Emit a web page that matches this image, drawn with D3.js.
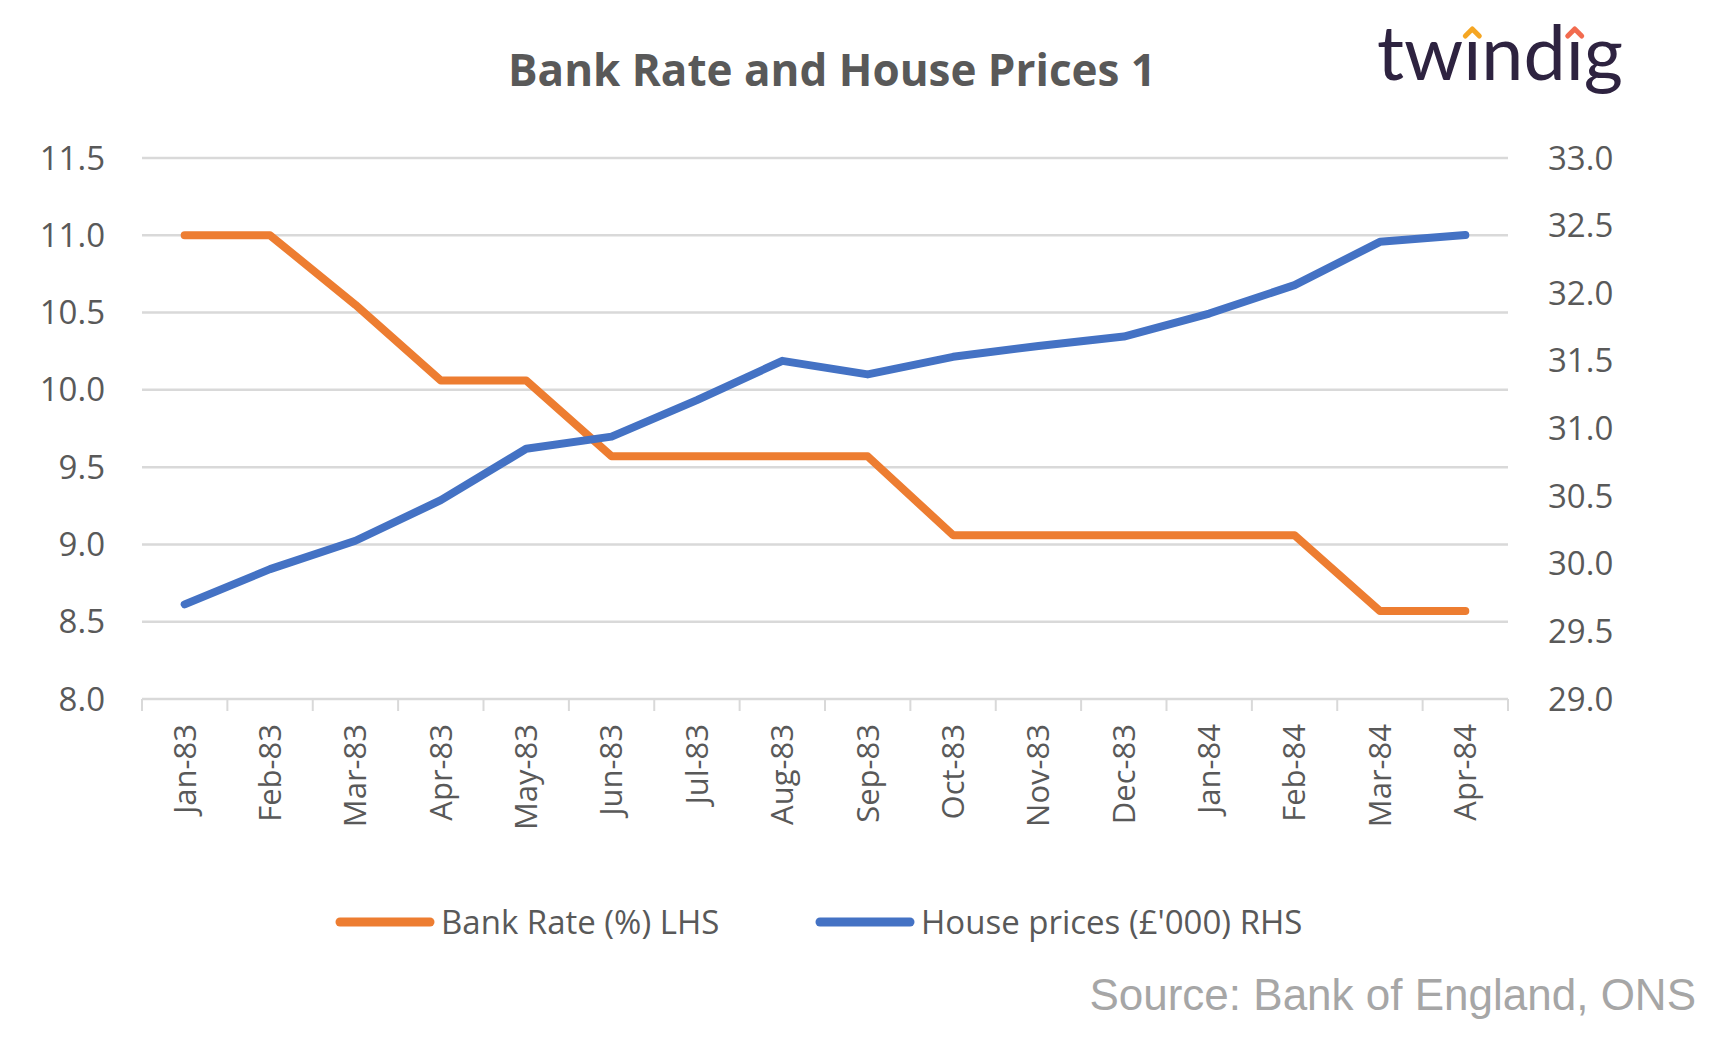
<!DOCTYPE html><html><head><meta charset="utf-8"><script src="https://cdn.jsdelivr.net/npm/d3@7"></script>
<style>body{margin:0;background:#fff}text{font-family:"Open Sans",sans-serif}</style></head><body><svg id="c" width="1725" height="1050"></svg>
<script>
const categories=["Jan-83","Feb-83","Mar-83","Apr-83","May-83","Jun-83","Jul-83","Aug-83","Sep-83","Oct-83","Nov-83","Dec-83","Jan-84","Feb-84","Mar-84","Apr-84"];
const bankRate=[11,11,10.55,10.06,10.06,9.57,9.57,9.57,9.57,9.06,9.06,9.06,9.06,9.06,8.57,8.57];
const housePrices=[29.70,29.96,30.17,30.47,30.85,30.94,31.21,31.50,31.40,31.53,31.61,31.68,31.85,32.06,32.38,32.43];
const leftTicks=[8,8.5,9,9.5,10,10.5,11,11.5];
const rightTicks=[29,29.5,30,30.5,31,31.5,32,32.5,33];
const svg=d3.select("#c");
const L=142,R=1508,T=158,B=699;
const x=d3.scaleBand().domain(categories).range([L,R]);
const yl=d3.scaleLinear().domain([8,11.5]).range([B,T]);
const yr=d3.scaleLinear().domain([29,33]).range([B,T]);
svg.append("g").selectAll("line").data(leftTicks).join("line").attr("x1",L).attr("x2",R).attr("y1",d=>yl(d)).attr("y2",d=>yl(d)).attr("stroke","#d9d9d9").attr("stroke-width",2.5);
svg.append("g").selectAll("line").data(d3.range(categories.length+1)).join("line").attr("x1",i=>L+i*x.step()).attr("x2",i=>L+i*x.step()).attr("y1",B).attr("y2",B+12).attr("stroke","#d9d9d9").attr("stroke-width",2);
svg.append("g").selectAll("text").data(leftTicks).join("text").attr("x",105).attr("y",d=>yl(d)).attr("dy","0.35em").attr("text-anchor","end").attr("font-size",33).attr("fill","#595959").text(d=>d.toFixed(1));
svg.append("g").selectAll("text").data(rightTicks).join("text").attr("x",1548).attr("y",d=>yr(d)).attr("dy","0.35em").attr("text-anchor","start").attr("font-size",33).attr("fill","#595959").text(d=>d.toFixed(1));
svg.append("g").selectAll("text").data(categories).join("text").attr("transform",d=>`translate(${x(d)+x.bandwidth()/2},724) rotate(-90)`).attr("dy","0.35em").attr("text-anchor","end").attr("font-size",31).attr("fill","#595959").text(d=>d);
const lineL=d3.line().x((d,i)=>x(categories[i])+x.bandwidth()/2).y(d=>yl(d));
const lineR=d3.line().x((d,i)=>x(categories[i])+x.bandwidth()/2).y(d=>yr(d));
svg.append("path").attr("d",lineL(bankRate)).attr("fill","none").attr("stroke","#ed7d31").attr("stroke-width",8).attr("stroke-linejoin","round").attr("stroke-linecap","round");
svg.append("path").attr("d",lineR(housePrices)).attr("fill","none").attr("stroke","#4472c4").attr("stroke-width",8).attr("stroke-linejoin","round").attr("stroke-linecap","round");
svg.append("text").attr("x",832).attr("y",71).attr("dy","0.35em").attr("text-anchor","middle").attr("font-size",44).attr("font-weight","bold").attr("fill","#595959").text("Bank Rate and House Prices 1");
const lg=[["Bank Rate (%) LHS","#ed7d31",340],["House prices (£'000) RHS","#4472c4",820]];
lg.forEach(([t,c,lx])=>{svg.append("line").attr("x1",lx).attr("x2",lx+90).attr("y1",922).attr("y2",922).attr("stroke",c).attr("stroke-width",9).attr("stroke-linecap","round");
svg.append("text").attr("x",lx+101).attr("y",922).attr("dy","0.35em").attr("font-size",33).attr("fill","#595959").text(t);});
svg.append("text").attr("x",1696).attr("y",995).attr("dy","0.35em").attr("text-anchor","end").attr("font-size",44).attr("fill","#a6a6a6").style("font-family","Liberation Sans, Arial").text("Source: Bank of England, ONS");
const logo=svg.append("text").attr("x",1377).attr("y",80).attr("font-size",76).attr("fill","#2e2340").style("font-family","Lato, sans-serif").attr("textLength",246).attr("lengthAdjust","spacingAndGlyphs").text("tw\u0131nd\u0131g");
[[2,"#f5a623"],[5,"#f26b4f"]].forEach(([ci,c])=>{const e=logo.node().getExtentOfChar(ci);const cx=e.x+e.width/2;
svg.append("path").attr("d",`M${cx-7},${36} L${cx},${29} L${cx+7},${36}`).attr("fill","none").attr("stroke",c).attr("stroke-width",5).attr("stroke-linecap","round").attr("stroke-linejoin","round");});
</script></body></html>
